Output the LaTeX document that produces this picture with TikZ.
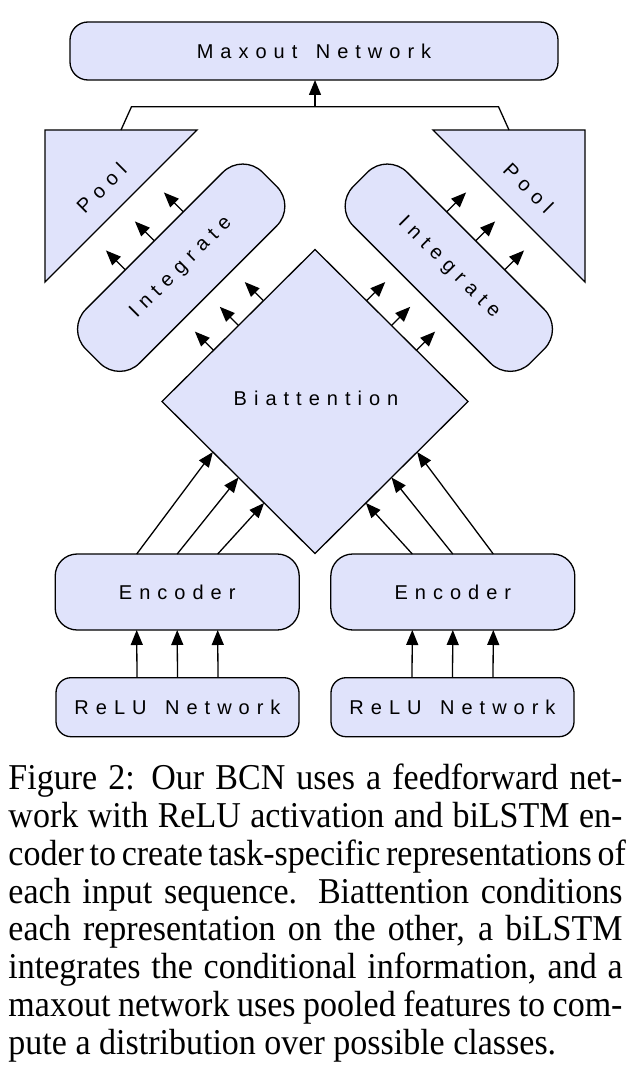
\documentclass[tikz,border=0pt]{standalone}
\usepackage{fontspec}
\setmainfont{Liberation Serif}
\newfontfamily\boxfont[LetterSpace=35]{Liberation Sans}
\usetikzlibrary{shapes.geometric,arrows.meta,calc}
\definecolor{boxfill}{RGB}{224,227,251}
\newcommand\wgap{\hspace{6pt} }
\newcommand\tailgap{\hspace{5pt}}
\newcommand\captline[1]{\scalebox{1}[1.07]{#1}}
\tikzset{
  shapebase/.style={draw=black, line width=1.3pt, fill=boxfill, inner sep=0pt, outer sep=0pt},
  boxtext/.style={font=\boxfont\fontsize{20pt}{24pt}\selectfont},
  rbox/.style={shapebase, boxtext, rectangle, rounded corners=#1},
  plainline/.style={line width=1.3pt, line join=miter},
  arr/.style={line width=1.3pt, -{Triangle[length=15pt,width=12pt]}},
  captext/.style={anchor=base west, inner sep=0pt, font=\fontsize{34pt}{38pt}\selectfont}
}
\begin{document}
\begin{tikzpicture}[x=1pt,y=-1pt]
\useasboundingbox (0,0) rectangle (644,1078);
\fill[white] (0,0) rectangle (644,1078);

% top box
\node[rbox=18pt, minimum width=488pt, minimum height=58pt] (max) at (314,51) {Maxout\wgap Network\tailgap};

% pools
\draw[shapebase] (45,130) -- (197,130) -- (45,282) -- cycle;
\draw[shapebase] (433,130) -- (585,130) -- (585,282) -- cycle;
\node[boxtext, rotate=45] (pL) at (101.5,188) {Pool};
\node[boxtext, rotate=-45] (pR) at (528.5,188) {Pool};

% integrate
\node[rbox=28pt, rotate=45, minimum width=250pt, minimum height=76pt] (iL) at (181.2,267.7) {Integrate};
\node[rbox=28pt, rotate=-45, minimum width=250pt, minimum height=76pt] (iR) at (448.8,267.7) {Integrate};

% biattention
\node[shapebase, diamond, aspect=1, minimum width=306pt, minimum height=304pt] (bi) at (315,401.5) {};
\node[boxtext] (biT) at (316,398) {Biattention};

% encoders and relu
\node[rbox=22pt, minimum width=244pt, minimum height=76pt] (eL) at (177.2,592) {Encoder\tailgap};
\node[rbox=22pt, minimum width=244pt, minimum height=76pt] (eR) at (452.8,592) {Encoder\tailgap};
\node[rbox=15pt, minimum width=243pt, minimum height=59pt] (rL) at (177.5,707.2) {ReLU\wgap Network\tailgap};
\node[rbox=15pt, minimum width=243pt, minimum height=59pt] (rR) at (452.5,707.2) {ReLU\wgap Network\tailgap};

% pool -> maxout connector
\coordinate (pLtop) at (121,130);
\coordinate (pRtop) at (509,130);
\coordinate (jL) at (131.5,106.7);
\coordinate (jR) at (498.5,106.7);
\coordinate (jM) at (315,106.7);
\draw[plainline] (pLtop) -- (jL) -- (jR) -- (pRtop);
\draw[arr] (jM) -- (jM |- max.south);

% relu -> encoder
\foreach \d in {-40.5,0,40.5} {
  \draw[arr] ($(rL.north)+(\d,0)$) -- ($(eL.south)+(\d,0)$);
  \draw[arr] ($(rR.north)+(\d,0)$) -- ($(eR.south)+(\d,0)$);
}

% encoder -> biattention
\draw[arr] ($(eL.north)+(-40.5,0)$) -- ($(bi.west)!0.3325!(bi.south)$);
\draw[arr] ($(eL.north)+(0,0)$) -- ($(bi.west)!0.5!(bi.south)$);
\draw[arr] ($(eL.north)+(40.5,0)$) -- ($(bi.west)!0.6675!(bi.south)$);
\draw[arr] ($(eR.north)+(40.5,0)$) -- ($(bi.east)!0.3325!(bi.south)$);
\draw[arr] ($(eR.north)+(0,0)$) -- ($(bi.east)!0.5!(bi.south)$);
\draw[arr] ($(eR.north)+(-40.5,0)$) -- ($(bi.east)!0.6675!(bi.south)$);

% biattention -> integrate (stubs)
\foreach \f in {0.337,0.5,0.663} {
  \draw[arr] ($(bi.west)!\f!(bi.north)$) -- ++(-18.7,-18.7);
  \draw[arr] ($(bi.east)!\f!(bi.north)$) -- ++(18.7,-18.7);
}

% integrate -> pool (stubs)
\foreach \f in {0.336,0.5,0.664} {
  \draw[arr] ($(iL.north west)!\f!(iL.north east)$) -- ++(-19.4,-19.4);
  \draw[arr] ($(iR.north west)!\f!(iR.north east)$) -- ++(19.4,-19.4);
}

% caption
\node[captext] (cap1) at (8.3,789.3) {\captline{\makebox[614pt][s]{Figure 2: Our BCN uses a feedforward net-}}};
\node[captext] (cap2) at (8.3,827.2) {\captline{\makebox[614pt][s]{work with ReLU activation and biLSTM en-}}};
\node[captext] (cap3) at (8.3,865.1) {\captline{\makebox[614pt][s]{coder to create task-specific representations of}}};
\node[captext] (cap4) at (8.3,903.0) {\captline{\makebox[614pt][s]{each input sequence. Biattention conditions}}};
\node[captext] (cap5) at (8.3,940.9) {\captline{\makebox[614pt][s]{each representation on the other, a biLSTM}}};
\node[captext] (cap6) at (8.3,978.8) {\captline{\makebox[614pt][s]{integrates the conditional information, and a}}};
\node[captext] (cap7) at (8.3,1016.7) {\captline{\makebox[614pt][s]{maxout network uses pooled features to com-}}};
\node[captext] (cap8) at (8.3,1054.6) {\captline{pute a distribution over possible classes.}};
\end{tikzpicture}
\end{document}
